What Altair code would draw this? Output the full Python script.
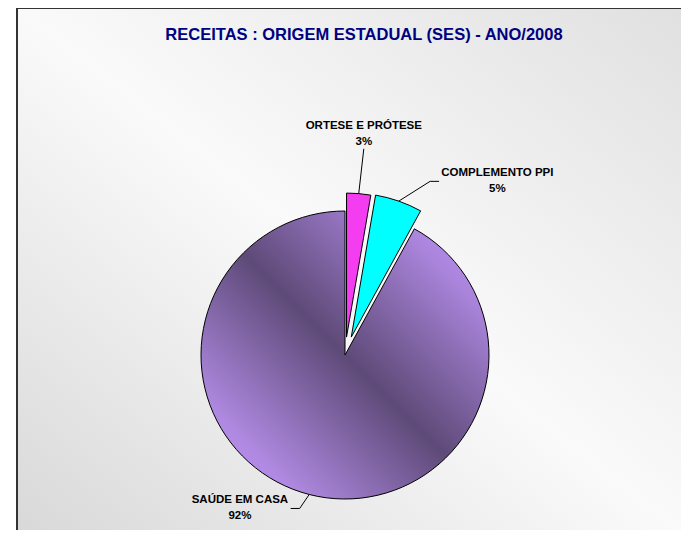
import math
import altair as alt
import pandas as pd

# ---- data ----
categories = ["ORTESE E PRÓTESE", "COMPLEMENTO PPI", "SAÚDE EM CASA"]
shares = [2.7, 5.3, 92.0]
pct_labels = ["3%", "5%", "92%"]
slice_colors = ["#F43CF0", "#00FFFF", "#8C6CB4"]
title_text = "RECEITAS : ORIGEM ESTADUAL (SES) - ANO/2008"

# ---- style / layout constants ----
W, H = 673, 522
CX, CY = 337, 347
R = 144
EXPLODE = [18, 19, 0]
LABEL_SHIFT_DEG = [0, 22, 20]
LABEL_R = [222, 231, 186]
LEADER_SIDE = ["below", "left", "right"]
CHAR_W = 7.5
FONT = "Liberation Sans"

total = sum(shares)
rows, leader_rows = [], []
cum = 0.0
for i, (cat, v) in enumerate(zip(categories, shares)):
    t0 = cum / total * 2 * math.pi
    cum += v
    t1 = cum / total * 2 * math.pi
    mid = (t0 + t1) / 2
    cx = CX + EXPLODE[i] * math.sin(mid)
    cy = CY - EXPLODE[i] * math.cos(mid)
    la = mid + math.radians(LABEL_SHIFT_DEG[i])
    lx = CX + LABEL_R[i] * math.sin(la)
    ly = CY - LABEL_R[i] * math.cos(la)
    rows.append(dict(cat=cat, pct=pct_labels[i], color=slice_colors[i],
                     t0=t0, t1=t1, cx=cx, cy=cy, lx=lx, ny=ly - 8, py=ly + 8))
    # leader line
    p0 = (cx + R * math.sin(mid), cy - R * math.cos(mid))
    half = len(cat) * CHAR_W / 2
    if LEADER_SIDE[i] == "below":
        pts = [p0, (lx, ly + 15)]
    elif LEADER_SIDE[i] == "left":
        e = (lx - half - 2, ly)
        pts = [p0, (e[0] - 9, e[1]), e]
    else:
        e = (lx + half + 2, ly)
        pts = [p0, (e[0] + 9, e[1]), e]
    for k, (px, py) in enumerate(pts):
        leader_rows.append(dict(cat=cat, k=k, x=px, y=py))

df = pd.DataFrame(rows)
ldf = pd.DataFrame(leader_rows)

bg_grad = alt.Gradient(
    gradient="linear",
    stops=[alt.GradientStop(color="#D8D8D8", offset=0),
           alt.GradientStop(color="#FAFAFA", offset=0.5),
           alt.GradientStop(color="#E0E0E0", offset=1)],
    x1=0, y1=1, x2=1, y2=0)

pie_grad = alt.Gradient(
    gradient="linear",
    stops=[alt.GradientStop(color="#BE96EE", offset=0),
           alt.GradientStop(color="#B08AE2", offset=0.17),
           alt.GradientStop(color="#5E4A78", offset=0.5),
           alt.GradientStop(color="#AC86DE", offset=0.83),
           alt.GradientStop(color="#BE96EE", offset=1)],
    x1=0, y1=1, x2=1, y2=0)

one = pd.DataFrame({"t": [title_text]})

background = alt.Chart(one).mark_rect(
    color=bg_grad, stroke="#333333", strokeWidth=2
).encode(x=alt.value(9), x2=alt.value(W + 10), y=alt.value(0), y2=alt.value(H + 10))

arc_enc = dict(
    theta=alt.Theta("t0:Q", scale=None),
    theta2=alt.Theta2("t1:Q"),
    x=alt.X("cx:Q", scale=None, axis=None),
    y=alt.Y("cy:Q", scale=None, axis=None),
)

main_slice = alt.Chart(df).transform_filter(
    alt.datum.cat == categories[2]
).mark_arc(color=pie_grad, stroke="black", strokeWidth=1, outerRadius=R).encode(**arc_enc)

small_slices = alt.Chart(df).transform_filter(
    alt.datum.cat != categories[2]
).mark_arc(stroke="black", strokeWidth=1, outerRadius=R).encode(
    color=alt.Color("color:N", scale=None), **arc_enc)

leaders = alt.Chart(ldf).mark_line(color="black", strokeWidth=1).encode(
    x=alt.X("x:Q", scale=None, axis=None),
    y=alt.Y("y:Q", scale=None, axis=None),
    detail="cat:N",
    order="k:Q",
)

names = alt.Chart(df).mark_text(
    font=FONT, fontSize=11.5, fontWeight="bold", color="black", baseline="middle", align="center"
).encode(x=alt.X("lx:Q", scale=None, axis=None), y=alt.Y("ny:Q", scale=None, axis=None), text="cat:N")

pcts = alt.Chart(df).mark_text(
    font=FONT, fontSize=11.5, fontWeight="bold", color="black", baseline="middle", align="center"
).encode(x=alt.X("lx:Q", scale=None, axis=None), y=alt.Y("py:Q", scale=None, axis=None), text="pct:N")

title = alt.Chart(one).mark_text(
    font=FONT, fontSize=16.5, fontWeight="bold", color="#000080", baseline="middle", align="center"
).encode(x=alt.value(356), y=alt.value(27), text="t:N")

chart = alt.layer(
    background, main_slice, small_slices, leaders, names, pcts, title
).properties(
    width=W, height=H, padding=0, autosize="none"
).configure_view(stroke=None)

chart.save("out.html", embed_options={"renderer": "svg", "actions": False})
